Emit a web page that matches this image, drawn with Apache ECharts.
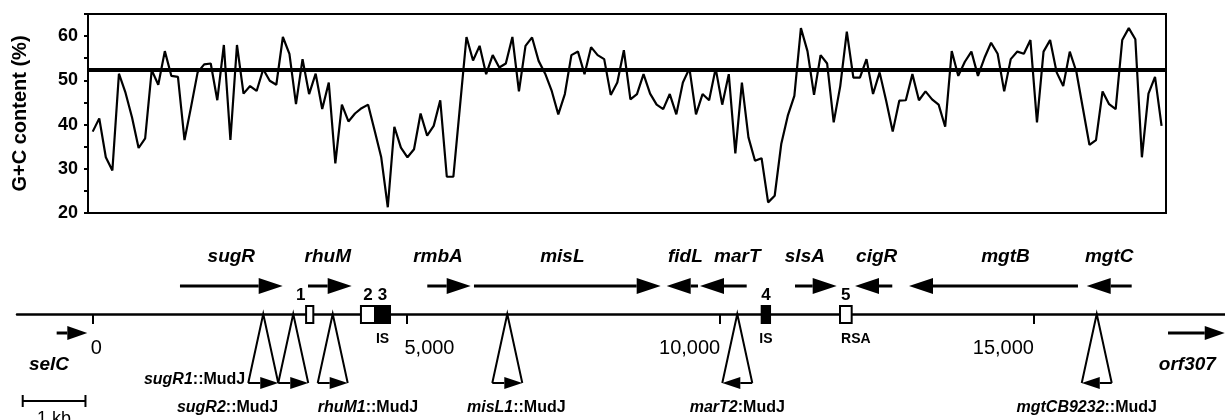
<!DOCTYPE html>
<html>
<head>
<meta charset="utf-8">
<title>G+C content and gene map</title>
<script src="https://cdn.jsdelivr.net/npm/echarts@6.0.0/dist/echarts.min.js"></script>
<style>
  html, body { margin: 0; padding: 0; background: #fff; }
  #chart { width: 1225px; height: 420px; }
</style>
</head>
<body>
<div id="chart"></div>
<script>
// G+C content (%) of consecutive windows along the region
const gcStep = 104.5; // bp between windows
const gcValues = [
  38.4, 41.4, 32.6, 29.6, 51.5, 47.2, 41.6, 34.7, 36.9, 52.3,
  49.0, 56.6, 51.0, 50.8, 36.5, 44.0, 51.8, 53.6, 53.8, 45.5,
  58.0, 36.5, 58.0, 47.0, 48.7, 47.6, 52.5, 49.9,
  49.0, 59.8, 56.0, 44.6, 54.8, 46.9, 51.5, 43.5, 49.5, 31.2,
  44.5, 40.7, 42.5, 43.7, 44.5, 38.6, 32.6, 21.3, 39.5, 34.8,
  32.6, 34.4, 42.5, 37.5, 39.7, 45.5, 28.2, 28.2,
  44.0, 59.8, 54.5, 57.8, 51.4, 55.7, 52.9, 53.8, 59.8, 47.5,
  57.8, 59.7, 54.4, 51.5, 47.6, 42.3, 46.9, 55.7, 56.5, 51.4,
  57.5, 55.7, 54.8, 46.7, 49.5, 56.8, 45.7,
  46.9, 51.4, 47.0, 44.5, 43.5, 46.9, 42.3, 49.5, 52.7, 42.3,
  46.9, 45.5, 52.7, 44.5, 51.4, 33.5, 49.5, 37.1, 31.8, 32.4,
  22.4, 23.9, 35.6, 42.0, 46.5, 61.8, 56.6,
  46.7, 55.7, 53.8, 40.5, 48.7, 61.0, 50.6, 50.6, 54.8, 46.9,
  51.8, 45.4, 38.4, 45.4, 45.5, 51.4, 45.5, 47.5, 45.7, 44.5,
  39.5, 56.6, 51.0, 54.2, 56.5, 51.0, 55.1, 58.5,
  56.0, 47.5, 54.8, 56.5, 56.0, 59.1, 40.5, 56.5, 59.1, 51.8,
  48.7, 56.5, 52.0, 43.7, 35.4, 36.5, 47.5, 44.6, 43.5, 59.1,
  61.8, 59.3, 32.6, 47.0, 50.8, 39.7
];
const gcMean = 52.3;
const gcTicks = [20, 30, 40, 50, 60];

// genes (bp), arrow points from -> to
const geneNames = ['sugR', 'rhuM', 'rmbA', 'misL', 'fidL', 'marT', 'slsA', 'cigR', 'mgtB', 'mgtC'];
const geneFrom = [1391, 3431, 5332, 6076, 9646, 10422, 11192, 12742, 15701, 16557];
const geneTo   = [3028, 4127, 6024, 9051, 9147, 9678, 11856, 12148, 13008, 15840];

// flanking genes
const flankNames = ['selC', 'orf307'];
const flankFrom = [-574, 17136];
const flankTo = [-86, 18040];

// numbered elements on the map
const boxNames = ['1', '2', '3', '4', '5'];
const boxFrom = [3401, 4275, 4499, 10661, 11909];
const boxTo = [3516, 4499, 4738, 10794, 12095];
const boxNotes = ['', '', 'IS', 'IS', 'RSA'];

// MudJ insertions (bp) and lacZ orientation
const insertNames = ['sugR1::MudJ', 'sugR2::MudJ', 'rhuM1::MudJ', 'misL1::MudJ', 'marT2:MudJ', 'mgtCB9232::MudJ'];
const insertAt = [2718, 3196, 3825, 6607, 10272, 16000];
const insertDir = [1, 1, 1, 1, -1, -1];

const mapTicks = [0, 5000, 10000, 15000];
const scaleBar = [-1115, -115]; // 1 kb

// ---- layout (px offsets from the map line) ----
const FONT = '"Liberation Sans", Arial, Helvetica, sans-serif';
const row = {
  geneLabel: 57, gene: 28, boxLabel: 19, boxTop: 8, boxBottom: -9, boxNote: -25,
  tickLabel: -34, flank: -19, flankLabel: -51, insertBase: -69, insertSide: -66,
  insertLabel: -94, scaleBar: -87, scaleLabel: -105.5
};
const geneLabelShift = [0, -2, -11, -5, 3, 14, -11, 3, 12, 0];
const boxLabelShift = [-9, 0, 0, 0, 0];
const boxNoteShift = [0, 0, 0, 0, 10];
const insertPlace = ['side', 'endAtLeft', 'startAtLeft', 'center', 'center', 'center'];
const insertLabelShift = [0, 0, 0, 9, 0, -10];
const flankLabelShift = [-23, -9];

function arrow(x1, x2, y, head, half, width) {
  const dir = x2 > x1 ? 1 : -1;
  const hx = x2 - dir * head;
  return [
    { type: 'line', shape: { x1: x1, y1: y, x2: hx, y2: y }, style: { stroke: '#000', lineWidth: width } },
    { type: 'polygon', shape: { points: [[x2, y], [hx, y - half], [hx, y + half]] }, style: { fill: '#000' } }
  ];
}

function txt(text, x, y, align, font) {
  return { type: 'text', style: { text: text, x: x, y: y, align: align, verticalAlign: 'middle', font: font, fill: '#000' } };
}

const chart = echarts.init(document.getElementById('chart'));

const option = {
  animation: false,
  backgroundColor: '#fff',
  grid: [
    { left: 88, right: 59, top: 14, bottom: 207, show: true, borderColor: '#000', borderWidth: 2 },
    { left: 17, right: 0, top: 225, bottom: 0 }
  ],
  xAxis: [
    { type: 'value', gridIndex: 0, min: -75, max: 17104, show: false },
    {
      type: 'value', gridIndex: 1, min: -1206, max: 18044,
      axisLine: { show: true, onZero: true, lineStyle: { color: '#000', width: 2.5 } },
      axisTick: { show: true, customValues: mapTicks, length: 10, lineStyle: { color: '#000', width: 2 } },
      axisLabel: { show: false },
      splitLine: { show: false }
    }
  ],
  yAxis: [
    {
      type: 'value', gridIndex: 0, min: 20, max: 65, interval: 5,
      name: 'G+C content (%)', nameLocation: 'middle', nameGap: 58, nameRotate: 90,
      nameTextStyle: { fontSize: 20, fontWeight: 'bold', color: '#000', fontFamily: FONT },
      axisLine: { show: true, onZero: false, lineStyle: { color: '#000', width: 2 } },
      axisTick: { show: true, length: 4, lineStyle: { color: '#000', width: 2 } },
      axisLabel: {
        margin: 10, fontSize: 18, fontWeight: 'bold', color: '#000', fontFamily: FONT,
        formatter: function (v) { return gcTicks.indexOf(v) >= 0 ? String(v) : ''; }
      },
      splitLine: { show: false }
    },
    { type: 'value', gridIndex: 1, min: -106, max: 89, show: false }
  ],
  series: [
    {
      type: 'line', xAxisIndex: 0, yAxisIndex: 0,
      data: gcValues.map(function (v, i) { return [i * gcStep, v]; }),
      symbol: 'none', lineStyle: { color: '#000', width: 2.2 },
      markLine: {
        silent: true, symbol: 'none', label: { show: false },
        lineStyle: { color: '#000', width: 4, type: 'solid' },
        data: [{ yAxis: gcMean }]
      }
    },
    {
      // genes
      type: 'custom', xAxisIndex: 1, yAxisIndex: 1,
      data: geneFrom.map(function (f, i) { return [f, geneTo[i]]; }),
      renderItem: function (params, api) {
        const i = params.dataIndex;
        const a = api.coord([api.value(0), row.gene]);
        const b = api.coord([api.value(1), row.gene]);
        const ly = api.coord([0, row.geneLabel])[1];
        const children = arrow(a[0], b[0], a[1], 24, 8, 3);
        children.push(txt(geneNames[i], (a[0] + b[0]) / 2 + geneLabelShift[i], ly, 'center', 'italic bold 19px ' + FONT));
        return { type: 'group', children: children };
      }
    },
    {
      // flanking genes
      type: 'custom', xAxisIndex: 1, yAxisIndex: 1,
      data: flankFrom.map(function (f, i) { return [f, flankTo[i]]; }),
      renderItem: function (params, api) {
        const a = api.coord([api.value(0), row.flank]);
        const b = api.coord([api.value(1), row.flank]);
        const ly = api.coord([0, row.flankLabel])[1];
        const children = arrow(a[0], b[0], a[1], 20, 7, 3);
        children.push(txt(flankNames[params.dataIndex], (a[0] + b[0]) / 2 + flankLabelShift[params.dataIndex], ly, 'center', 'italic bold 19px ' + FONT));
        return { type: 'group', children: children };
      }
    },
    {
      // numbered boxes
      type: 'custom', xAxisIndex: 1, yAxisIndex: 1,
      data: boxFrom.map(function (f, i) { return [f, boxTo[i]]; }),
      renderItem: function (params, api) {
        const i = params.dataIndex;
        const a = api.coord([api.value(0), row.boxTop]);
        const b = api.coord([api.value(1), row.boxBottom]);
        const cx = (a[0] + b[0]) / 2;
        const filled = boxNotes[i] === 'IS';
        const children = [
          { type: 'rect', shape: { x: a[0], y: a[1], width: b[0] - a[0], height: b[1] - a[1] },
            style: { fill: filled ? '#000' : '#fff', stroke: '#000', lineWidth: 2 } },
          txt(boxNames[i], cx + boxLabelShift[i], api.coord([0, row.boxLabel])[1], 'center', 'bold 17px ' + FONT)
        ];
        if (boxNotes[i]) {
          children.push(txt(boxNotes[i], cx + boxNoteShift[i], api.coord([0, row.boxNote])[1], 'center', 'bold 14px ' + FONT));
        }
        return { type: 'group', children: children };
      }
    },
    {
      // MudJ insertions
      type: 'custom', xAxisIndex: 1, yAxisIndex: 1,
      data: insertAt.map(function (x, i) { return [x, insertDir[i]]; }),
      renderItem: function (params, api) {
        const i = params.dataIndex;
        const apex = api.coord([api.value(0), 0]);
        const by = api.coord([0, row.insertBase])[1];
        const hw = 15;
        const l = apex[0] - hw, r = apex[0] + hw;
        const dir = api.value(1);
        const children = [
          { type: 'polyline', shape: { points: [[l, by], [apex[0], apex[1]], [r, by]] }, style: { stroke: '#000', lineWidth: 2, fill: null } }
        ].concat(dir > 0 ? arrow(l, r, by, 18, 6, 2) : arrow(r, l, by, 18, 6, 2));
        const name = insertNames[i];
        const cut = name.indexOf(':');
        const rich = {
          i: { fontStyle: 'italic', fontWeight: 'bold', fontSize: 16, fontFamily: FONT, fill: '#000' },
          n: { fontWeight: 'bold', fontSize: 16, fontFamily: FONT, fill: '#000' }
        };
        const text = '{i|' + name.slice(0, cut) + '}{n|' + name.slice(cut) + '}';
        let x = apex[0] + insertLabelShift[i], y = api.coord([0, row.insertLabel])[1], align = 'center';
        if (insertPlace[i] === 'side') { x = l - 3; y = api.coord([0, row.insertSide])[1]; align = 'right'; }
        else if (insertPlace[i] === 'endAtLeft') { x = l; align = 'right'; }
        else if (insertPlace[i] === 'startAtLeft') { x = l; align = 'left'; }
        children.push({ type: 'text', style: { text: text, rich: rich, x: x, y: y, align: align, verticalAlign: 'middle' } });
        return { type: 'group', children: children };
      }
    },
    {
      // map tick labels
      type: 'custom', xAxisIndex: 1, yAxisIndex: 1,
      data: mapTicks.map(function (t) { return [t]; }),
      renderItem: function (params, api) {
        const v = api.value(0);
        const p = api.coord([v, row.tickLabel]);
        const left = v < 10000;
        return txt(v.toLocaleString('en-US'), left ? p[0] - 2 : p[0], p[1], left ? 'left' : 'right', '20px ' + FONT);
      }
    },
    {
      // scale bar
      type: 'custom', xAxisIndex: 1, yAxisIndex: 1,
      data: [scaleBar],
      renderItem: function (params, api) {
        const a = api.coord([api.value(0), row.scaleBar]);
        const b = api.coord([api.value(1), row.scaleBar]);
        return {
          type: 'group',
          children: [
            { type: 'line', shape: { x1: a[0], y1: a[1], x2: b[0], y2: b[1] }, style: { stroke: '#000', lineWidth: 2 } },
            { type: 'line', shape: { x1: a[0], y1: a[1] - 6, x2: a[0], y2: a[1] + 6 }, style: { stroke: '#000', lineWidth: 2 } },
            { type: 'line', shape: { x1: b[0], y1: b[1] - 6, x2: b[0], y2: b[1] + 6 }, style: { stroke: '#000', lineWidth: 2 } },
            txt('1 kb', (a[0] + b[0]) / 2, api.coord([0, row.scaleLabel])[1], 'center', '18px ' + FONT)
          ]
        };
      }
    }
  ]
};

chart.setOption(option);
</script>
</body>
</html>
